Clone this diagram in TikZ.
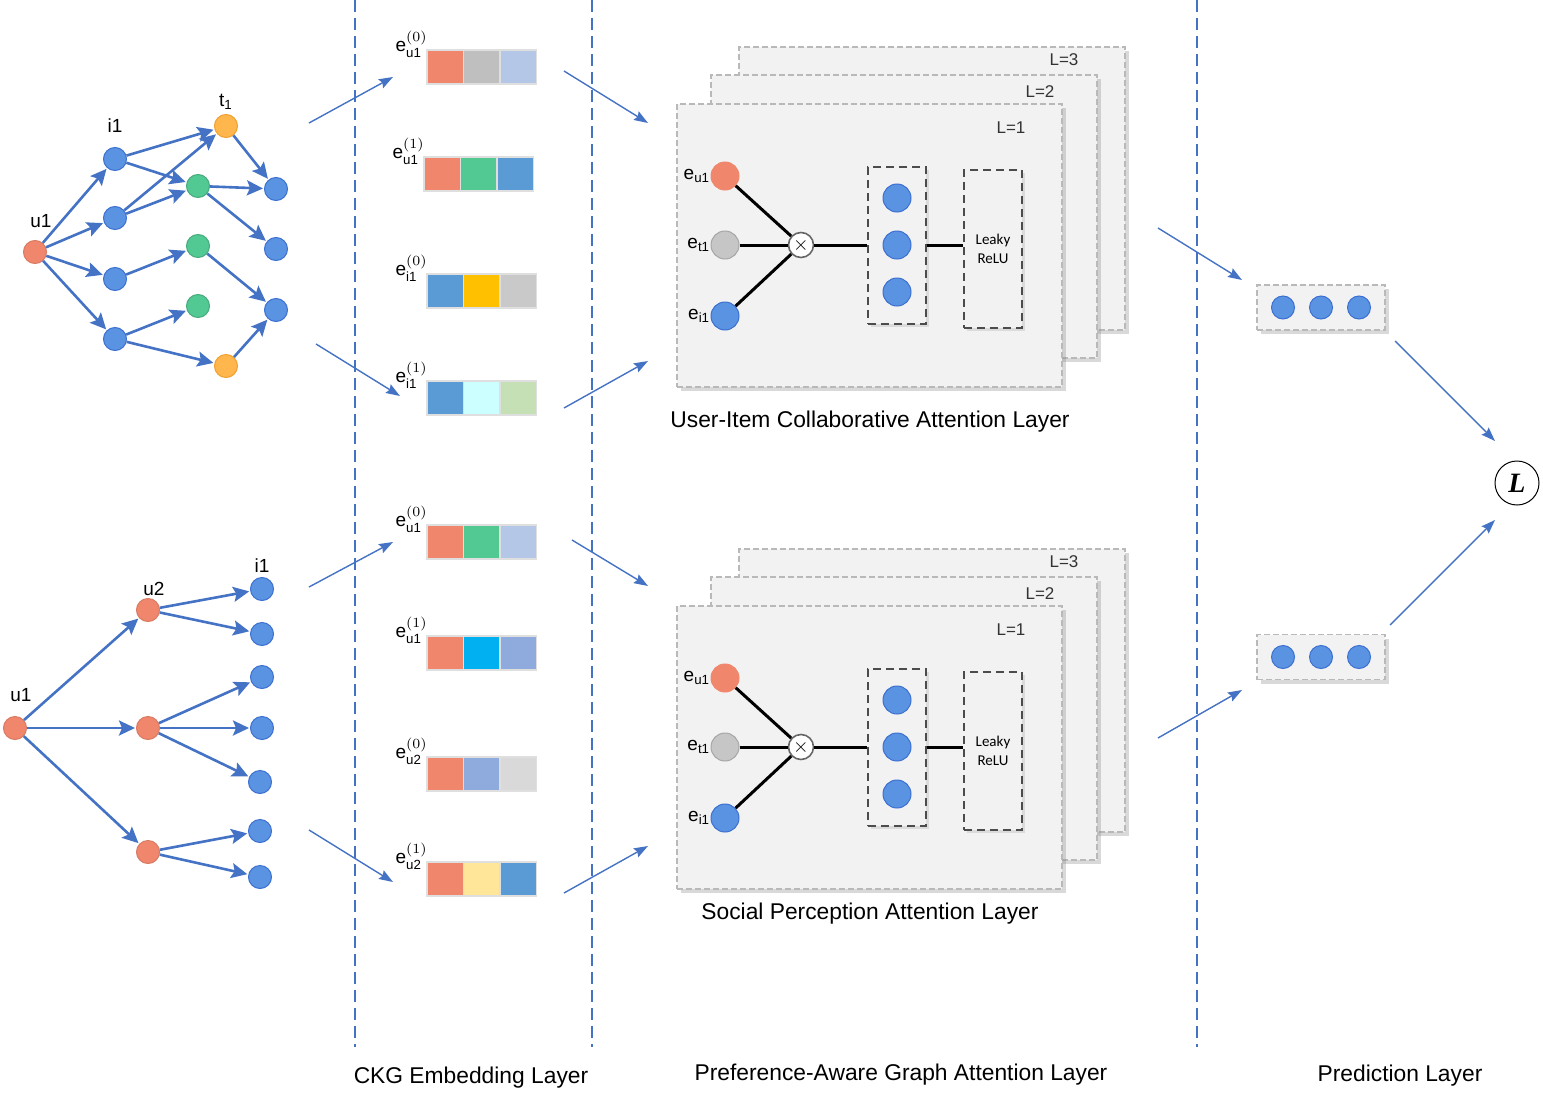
\documentclass[tikz,border=0pt]{standalone}
\usepackage{fontspec}
\setmainfont{Liberation Sans}
\newfontfamily\relufont{Carlito}
\newfontfamily\lossfont{Liberation Serif}
\usetikzlibrary{arrows.meta,shadows}

\definecolor{cRed}{HTML}{F0876D}
\definecolor{cBlue}{HTML}{5B93E3}
\definecolor{cBlueD}{HTML}{3B70D0}
\definecolor{cGreen}{HTML}{52C893}
\definecolor{cGold}{HTML}{FFB64C}
\definecolor{cGoldD}{HTML}{F0A030}
\definecolor{cEdge}{HTML}{4472C4}
\definecolor{cPanel}{HTML}{F2F2F2}
\definecolor{cGrayA}{HTML}{BFBFBF}
\definecolor{cGrayB}{HTML}{C9C9C9}
\definecolor{cGrayC}{HTML}{D9D9D9}
\definecolor{cPale}{HTML}{B4C7E7}
\definecolor{cMid}{HTML}{5B9BD5}
\definecolor{cAmber}{HTML}{FFC000}
\definecolor{cCyanL}{HTML}{CCFFFF}
\definecolor{cSage}{HTML}{C5E0B4}
\definecolor{cSky}{HTML}{00B0F0}
\definecolor{cPeri}{HTML}{8FAADC}
\definecolor{cCream}{HTML}{FFE699}

\tikzset{
  gnode/.style={circle,minimum size=11.5pt,inner sep=0pt,line width=0.5pt},
  unode/.style={gnode,fill=cRed,draw=cRed!90!black},
  inode/.style={gnode,fill=cBlue,draw=cBlueD},
  anode/.style={gnode,fill=cGreen,draw=cGreen!85!black},
  tnode/.style={gnode,fill=cGold,draw=cGoldD},
  glab/.style={font=\fontsize{9.5}{10}\selectfont,inner sep=1pt},
  edge/.style={-{Stealth[length=8pt,width=7.5pt,inset=1.5pt]},line width=1.3pt,cEdge,shorten >=0.5pt},
  flow/.style={-{Stealth[length=7pt,width=5pt,inset=1pt]},line width=0.7pt,cEdge},
  sep/.style={cEdge,line width=0.75pt,dash pattern=on 6pt off 3pt},
  cell/.style={minimum width=18.25pt,minimum height=17pt,inner sep=0pt,draw=gray!25,line width=0.7pt},
  elab/.style={font=\fontsize{9.5}{9}\selectfont,inner sep=0pt},
  layerbox/.style={draw=gray!55,dash pattern=on 3pt off 1.5pt,line width=0.6pt,fill=cPanel,
    drop shadow={shadow xshift=2pt,shadow yshift=-2pt,opacity=0.3}},
  lnum/.style={font=\fontsize{8.5}{9}\selectfont,text=black!80},
  big/.style={circle,minimum size=14pt,inner sep=0pt,line width=0.5pt},
  dashbox/.style={draw=black!70,dash pattern=on 4pt off 2.5pt,line width=0.7pt,fill=cPanel,
    minimum width=29pt,inner sep=0pt,drop shadow={shadow xshift=1.5pt,shadow yshift=-1.5pt,opacity=0.2}},
  wire/.style={line width=1.5pt,black},
  predbox/.style={draw=gray!55,dash pattern=on 3pt off 1.5pt,line width=0.6pt,fill=cPanel,
    minimum width=64pt,minimum height=22.5pt,drop shadow={shadow xshift=2pt,shadow yshift=-2pt,opacity=0.3}},
  layername/.style={font=\fontsize{11.4}{12}\selectfont}
}

\begin{document}
\begin{tikzpicture}[x=0.5pt,y=-0.5pt]
\useasboundingbox (0,0) rectangle (1543,1103);

% layer separators
\foreach \x in {355,592,1197}
  \draw[sep] (\x,0) -- (\x,1047);

% knowledge graph (top)
\node[unode,label={[glab,yshift=5pt,xshift=3pt]above:u1}] (u1) at (35,252) {};
\node[inode,label={[glab,yshift=6pt]above:i1}] (i1) at (115,159) {};
\node[inode] (i2) at (115,218) {};
\node[inode] (i3) at (115,279) {};
\node[inode] (i4) at (115,339) {};
\node[anode] (a1) at (198,186) {};
\node[anode] (a2) at (198,246) {};
\node[anode] (a3) at (198,306) {};
\node[tnode,label={[glab,yshift=1pt]above:t\textsubscript{1}}] (t1) at (226,126) {};
\node[tnode] (t2) at (226,366) {};
\node[inode] (r1) at (276,189) {};
\node[inode] (r2) at (276,249) {};
\node[inode] (r3) at (276,310) {};
\foreach \s/\t in {u1/i1,u1/i2,u1/i3,u1/i4,i1/t1,i1/a1,i2/t1,i2/a1,i3/a2,
                   i4/a3,i4/t2,t1/r1,a1/r1,a1/r2,a2/r3,t2/r3}
  \draw[edge] (\s) -- (\t);

% social graph (bottom)
\node[unode,label={[glab,yshift=6pt,xshift=3pt]above:u1}] (v1) at (15,728) {};
\node[unode,label={[glab,xshift=3pt]above:u2}] (w1) at (148,610) {};
\node[unode] (w2) at (148,728) {};
\node[unode] (w3) at (148,852) {};
\node[inode,label={[glab,yshift=1pt]above:i1}] (b1) at (262,589) {};
\node[inode] (b2) at (262,634) {};
\node[inode] (b3) at (262,677) {};
\node[inode] (b4) at (262,728) {};
\node[inode] (b5) at (260,782) {};
\node[inode] (b6) at (260,831) {};
\node[inode] (b7) at (260,877) {};
\foreach \s/\t in {v1/w1,v1/w2,v1/w3,w1/b1,w1/b2,w2/b3,w2/b4,w2/b5,w3/b6,w3/b7}
  \draw[edge] (\s) -- (\t);

% embedding bars
\foreach \n/\x/\y/\ca/\cb/\cc/\who/\lev in {
  1/427/67/cRed/cGrayA/cPale/u1/0, 2/424/174/cRed/cGreen/cMid/u1/1,
  3/427/291/cMid/cAmber/cGrayB/i1/0, 4/427/398/cMid/cCyanL/cSage/i1/1,
  5/427/542/cRed/cGreen/cPale/u1/0, 6/427/653/cRed/cSky/cPeri/u1/1,
  7/427/774/cRed/cPeri/cGrayC/u2/0, 8/427/879/cRed/cCream/cMid/u2/1}{
  \node[cell,fill=\ca] (c\n a) at ({\x+18.25},\y) {};
  \node[cell,fill=\cb] (c\n b) at ({\x+54.75},\y) {};
  \node[cell,fill=\cc] (c\n c) at ({\x+91.25},\y) {};
  \node[elab,anchor=base east] (e\n) at ({\x+1},{\y-16}) {$\mathrm{e}^{(\lev)}_{\mathrm{\who}}$};
}

% attention stacks
\foreach \k/\dy in {1/0,2/502}{
\begin{scope}[shift={(0,\dy)}]
  \node[layerbox,minimum width=193pt,minimum height=141.5pt] (p3\k) at (932,188.5) {};
  \node[lnum] at (1064,60) {L=3};
  \node[layerbox,minimum width=193pt,minimum height=141.5pt] (p2\k) at (904,216.5) {};
  \node[lnum] at (1040,92) {L=2};
  \node[layerbox,minimum width=192.5pt,minimum height=141.5pt] (p1\k) at (869.5,245.5) {};
  \node[lnum] at (1011,128) {L=1};
  \node[big,fill=cRed,draw=cRed,label={[elab]left:$\mathrm{e}_{\mathrm{u1}}$}] (eu\k) at (725,176) {};
  \node[big,fill=gray!45,draw=gray!70,label={[elab]left:$\mathrm{e}_{\mathrm{t1}}$}] (et\k) at (725,245) {};
  \node[big,fill=cBlue,draw=cBlueD,label={[elab]left:$\mathrm{e}_{\mathrm{i1}}$}] (ei\k) at (725,316) {};
  \node[circle,draw=gray!80!black,fill=white,line width=0.8pt,minimum size=12.5pt,inner sep=0pt] (mul\k) at (801,245) {$\times$};
  \node[dashbox,minimum height=78.5pt] (hid\k) at (897,245.5) {};
  \foreach \j/\y in {1/198,2/245,3/292}
    \node[big,fill=cBlue,draw=cBlueD] (h\k\j) at (897,\y) {};
  \node[dashbox,minimum height=79pt,align=center,font=\relufont\fontsize{7.5}{9.5}\selectfont] (relu\k) at (993,249) {Leaky\\ReLU};
  \foreach \s in {eu,et,ei}
    \draw[wire] (\s\k) -- (mul\k);
  \draw[wire] (mul\k) -- (hid\k.west |- mul\k);
  \draw[wire] (hid\k.east |- mul\k) -- (relu\k.west |- mul\k);
\end{scope}
}

\node[layername] (capA) at (870,422) {User-Item Collaborative Attention Layer};
\node[layername] (capB) at (870,914) {Social Perception Attention Layer};

% prediction
\foreach \k/\y in {1/307.5,2/657}{
  \node[predbox] (pred\k) at (1321,\y) {};
  \foreach \j/\x in {1/1283,2/1321,3/1359}
    \node[gnode,fill=cBlue,draw=cBlueD] (pd\k\j) at (\x,\y) {};
}
\node[circle,draw=black,line width=0.5pt,minimum size=22pt,inner sep=0pt] (loss) at (1517,483)
  {\lossfont\fontsize{14}{14}\selectfont\textbf{\textit{L}}};

% flow arrows between layers
\foreach \n/\a/\b in {1/{309,123}/{393,77}, 2/{316,344}/{400,396}, 3/{564,71}/{648,123},
  4/{564,408}/{648,361}, 5/{1158,228}/{1242,280}, 6/{1395,341}/{1495,441},
  7/{309,587}/{393,542}, 8/{309,830}/{393,882}, 9/{572,540}/{648,586},
  10/{564,893}/{648,846}, 11/{1158,738}/{1242,690}, 12/{1390,625}/{1495,520}}{
  \coordinate (f\n s) at (\a);
  \coordinate (f\n e) at (\b);
  \draw[flow] (f\n s) -- (f\n e);
}

% layer names
\node[layername] (capC) at (471,1078) {CKG Embedding Layer};
\node[layername] (capD) at (901,1075) {Preference-Aware Graph Attention Layer};
\node[layername] (capE) at (1400,1076) {Prediction Layer};
\end{tikzpicture}
\end{document}
